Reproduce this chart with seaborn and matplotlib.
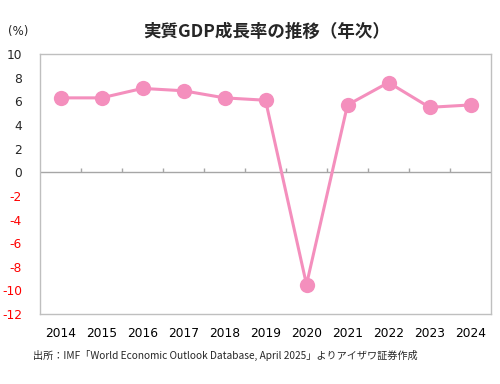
import numpy as np
import pandas as pd
import seaborn as sns
import matplotlib.pyplot as plt

### datos ###
years = ['2014', '2015', '2016', '2017', '2018', '2019', '2020', '2021', '2022', '2023', '2024']
growth = [6.3, 6.3, 7.1, 6.9, 6.3, 6.1, -9.5, 5.7, 7.6, 5.5, 5.7]
yticks = [10, 8, 6, 4, 2, 0, -2, -4, -6, -8, -10, -12]

df = pd.DataFrame({'pos': np.arange(len(years)), 'growth': growth})

sns.set_style('white')
plt.rcParams['font.family'] = ['DejaVu Sans', 'Noto Sans CJK JP']

pink = '#F48FBD'
grid_gray = '#BFBFBF'

fig = plt.figure(figsize=(5, 3.84), dpi=100)
ax = fig.add_axes([0.08, 0.182, 0.902, 0.677])

sns.lineplot(data=df, x='pos', y='growth', ax=ax, color=pink, linewidth=2.2,
             marker='o', markersize=11, markeredgewidth=0, zorder=3)

ax.set_xlim(-0.5, len(years) - 0.5)
ax.set_ylim(-12, 10)

# linea del cero y marcas entre categorias
ax.axhline(0, color='#A6A6A6', linewidth=1.0, zorder=1)
ax.vlines(np.arange(0.5, len(years) - 0.5), 0, 0.35, color='#A6A6A6', linewidth=1.0, zorder=1)

ax.set_xticks(df['pos'])
ax.set_xticklabels(years, fontsize=8.8)
ax.set_yticks(yticks)
ax.set_yticklabels([str(v) for v in yticks], fontsize=8.8)
for lbl, v in zip(ax.get_yticklabels(), yticks):
    if v < 0:
        lbl.set_color('#FF0000')

ax.tick_params(axis='x', length=0, pad=9, colors='#000000')
ax.tick_params(axis='y', direction='in', length=3, width=0.8, color=grid_gray, pad=13)

for s in ax.spines.values():
    s.set_color(grid_gray)
    s.set_linewidth(1.0)

ax.set_xlabel('')
ax.set_ylabel('')

fig.text(0.533, 0.918, '実質GDP成長率の推移（年次）', ha='center', va='center',
         fontsize=12.6, fontweight='bold', family=['Noto Sans CJK JP'])
fig.text(0.016, 0.917, '(%)', ha='left', va='center', fontsize=8.5)
fig.text(0.066, 0.074, '出所：IMF「World Economic Outlook Database, April 2025」よりアイザワ証券作成',
         ha='left', va='center', fontsize=7.3, family=['Noto Sans CJK JP'])

fig.savefig('out.png', dpi=100)
